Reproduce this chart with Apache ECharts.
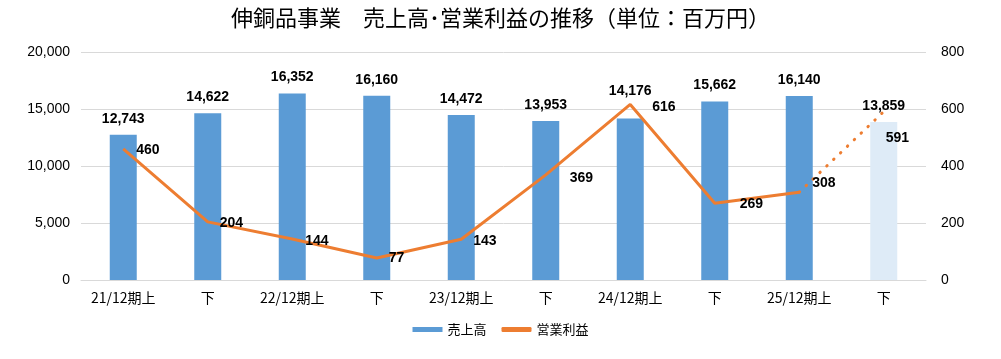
<!DOCTYPE html>
<html><head><meta charset="utf-8">
<script src="https://cdn.jsdelivr.net/npm/echarts@6/dist/echarts.min.js"></script>
<style>html,body{margin:0;padding:0;background:#fff}#c{width:1001px;height:359px}</style>
</head><body><div id="c"></div>
<script>
const categories = ['21/12期上','下','22/12期上','下','23/12期上','下','24/12期上','下','25/12期上','下'];
const sales = [12743,14622,16352,16160,14472,13953,14176,15662,16140,13859];
const profit = [460,204,144,77,143,369,616,269,308,591];
const forecastIndex = 9;
// label placement (layout only)
const profitLabelOffsets = [[13,1],[12,1],[13,2],[12,0],[12,2],[24,3],[22,3],[25,1],[13,-9],[2,27]];
const salesLabelOffsets = [[0,0],[0,0],[0,0],[0,0],[0,0],[0,0],[0,-11],[0,0],[0,0],[0,0]];

const font = '"Liberation Sans", Arial, "Noto Sans CJK JP", sans-serif';
const cjk = '"Noto Sans CJK JP", sans-serif';
const chart = echarts.init(document.getElementById('c'));
const lbl = {show:true,position:'right',distance:0,fontFamily:font,fontSize:14,fontWeight:'bold',color:'#000'};
const profitPoint = (v,i)=>({value:v,label:{offset:profitLabelOffsets[i]}});
const solidProfit = profit.map((v,i)=> i < forecastIndex ? profitPoint(v,i) : null);
const dottedProfit = profit.map((v,i)=> i === forecastIndex ? profitPoint(v,i) :
  (i === forecastIndex-1 ? {value:v,label:{show:false}} : null));
const salesData = sales.map((v,i)=>{
  const d = {value:v,label:{offset:salesLabelOffsets[i]}};
  if (i===forecastIndex) d.itemStyle = {color:'#DEEBF7'};
  return d;
});

chart.setOption({
  animation:false,
  title:{text:'伸銅品事業　売上高･営業利益の推移（単位：百万円）',left:'center',top:2,
    textStyle:{fontFamily:cjk,fontSize:22,fontWeight:'normal',color:'#000'}},
  legend:{data:[{name:'売上高',icon:'rect'},{name:'営業利益',icon:'roundRect'}],bottom:18,left:'center',
    itemWidth:30,itemHeight:5,itemGap:15,
    textStyle:{fontFamily:cjk,fontSize:13,color:'#000'}},
  grid:{left:81,right:75,top:52,bottom:79,containLabel:false},
  xAxis:{type:'category',data:categories,
    axisLine:{lineStyle:{color:'#d9d9d9'}},axisTick:{show:false},
    axisLabel:{fontFamily:cjk,fontSize:14,color:'#000',margin:11}},
  yAxis:[
    {type:'value',min:0,max:20000,interval:5000,
      axisLabel:{fontFamily:font,fontSize:14,color:'#000',margin:11,
        formatter:v=>v.toLocaleString('en-US')},
      splitLine:{lineStyle:{color:'#d9d9d9'}},axisLine:{show:false},axisTick:{show:false}},
    {type:'value',min:0,max:800,interval:200,
      axisLabel:{fontFamily:font,fontSize:14,color:'#000',margin:15},
      splitLine:{show:false},axisLine:{show:false},axisTick:{show:false}}
  ],
  series:[
    {name:'売上高',type:'bar',barWidth:27,
      data:salesData,
      itemStyle:{color:'#5B9BD5'},
      label:{show:true,position:'top',distance:9,fontFamily:font,fontSize:14,fontWeight:'bold',color:'#000',
        formatter:p=>p.value.toLocaleString('en-US')}},
    {name:'営業利益',type:'line',yAxisIndex:1,data:solidProfit,
      lineStyle:{color:'#ED7D31',width:3},itemStyle:{color:'#ED7D31'},symbol:'circle',symbolSize:0.1,
      label:lbl, z:3},
    {name:'営業利益予想',type:'line',yAxisIndex:1,data:dottedProfit,
      lineStyle:{color:'#ED7D31',width:3,type:[0.5,9],cap:'round'},itemStyle:{color:'#ED7D31'},symbol:'circle',symbolSize:0.1,
      label:lbl, z:3}
  ]
});
</script></body></html>
